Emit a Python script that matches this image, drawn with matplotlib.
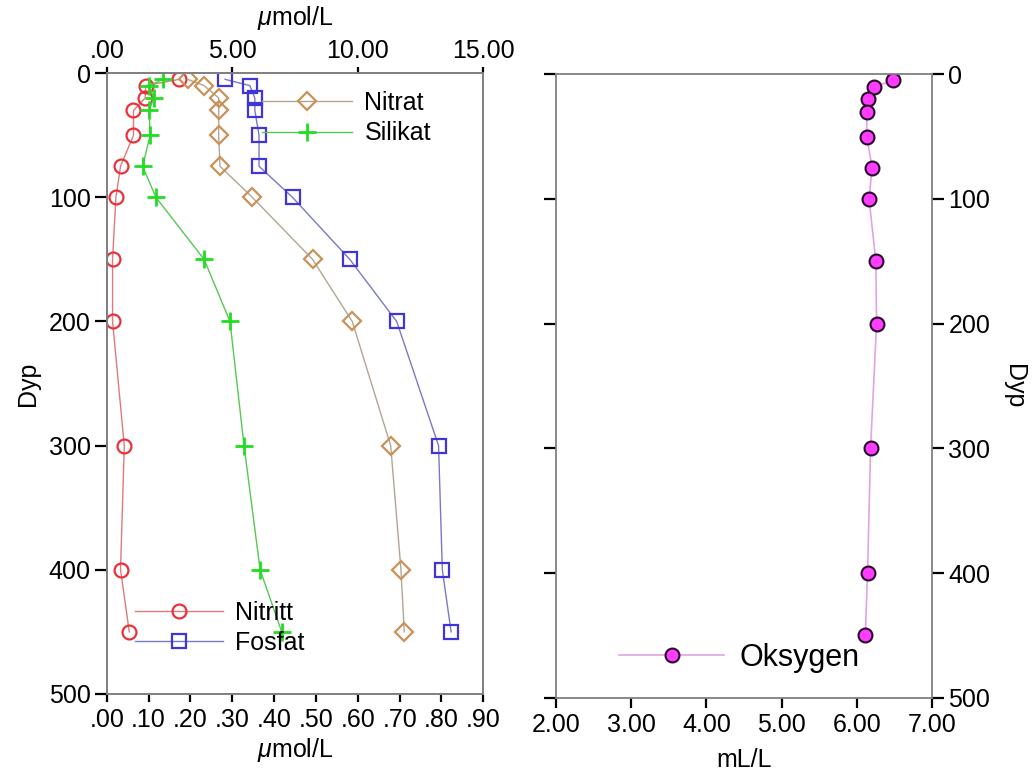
import matplotlib
matplotlib.use("Agg")
import matplotlib.pyplot as plt
from matplotlib.ticker import FuncFormatter

plt.rcParams["font.family"] = ["Liberation Sans", "DejaVu Sans"]
plt.rcParams["mathtext.fontset"] = "custom"
plt.rcParams["mathtext.it"] = "Liberation Sans:italic"
plt.rcParams["mathtext.rm"] = "Liberation Sans"

# depth of the samples (m)
depth = [5, 10, 20, 30, 50, 75, 100, 150, 200, 300, 400, 450]

# bottom axis, umol/L
nitritt = [0.173, 0.093, 0.092, 0.064, 0.064, 0.033, 0.022, 0.014, 0.014, 0.042, 0.033, 0.054]
fosfat = [0.283, 0.342, 0.354, 0.354, 0.364, 0.364, 0.444, 0.581, 0.693, 0.793, 0.802, 0.823]

# top axis, umol/L
nitrat = [3.23, 3.88, 4.46, 4.46, 4.46, 4.51, 5.80, 8.20, 9.78, 11.31, 11.72, 11.85]
silikat = [2.25, 1.69, 1.88, 1.69, 1.73, 1.43, 1.96, 3.88, 4.91, 5.47, 6.11, 6.97]

# right panel, mL/L
oksygen = [6.48, 6.22, 6.14, 6.13, 6.13, 6.20, 6.16, 6.25, 6.26, 6.18, 6.14, 6.11]

depth_ticks = [0, 100, 200, 300, 400, 500]
bottom_ticks = [0.0, 0.1, 0.2, 0.3, 0.4, 0.5, 0.6, 0.7, 0.8, 0.9]
top_ticks = [0, 5, 10, 15]
oks_ticks = [2, 3, 4, 5, 6, 7]

TICK = 18
LAB = 18
SPINE = "#808080"


def short_fmt(v, pos):
    s = "%.2f" % v
    if s.startswith("0."):
        s = s[1:]
    return s


def style_spines(ax):
    for sp in ax.spines.values():
        sp.set_color(SPINE)
        sp.set_linewidth(1.3)


fig = plt.figure(figsize=(10.33, 7.76), dpi=100)

# ---- left panel ----
ax1 = fig.add_axes([0.1033, 0.1057, 0.3646, 0.80])
ax1.plot(nitritt, depth, color="#e07a7a", lw=1, marker="o", ms=10, mfc="none",
         mec="#e8323a", mew=1.6, label="Nitritt")
ax1.plot(fosfat, depth, color="#7a78c8", lw=1, marker="s", ms=9.5, mfc="none",
         mec="#3f35d8", mew=1.6, label="Fosfat")
ax1.set_xlim(0, 0.9)
ax1.set_ylim(500, 0)
ax1.set_xticks(bottom_ticks)
ax1.set_yticks(depth_ticks)
ax1.xaxis.set_major_formatter(FuncFormatter(short_fmt))
ax1.tick_params(axis="x", direction="out", length=6, width=1.6, labelsize=TICK, pad=4)
ax1.tick_params(axis="y", direction="out", length=8.5, width=1.6, labelsize=TICK, pad=3)
ax1.set_xlabel("$\\mathit{\\mu}$mol/L", fontsize=LAB, labelpad=3)
ax1.set_ylabel("Dyp", fontsize=LAB, labelpad=6)
style_spines(ax1)

ax_top = ax1.twiny()
ax_top.plot(nitrat, depth, color="#b3a592", lw=1, marker="D", ms=9.5, mfc="none",
            mec="#c8925a", mew=1.6, label="Nitrat")
ax_top.plot(silikat, depth, color="#55c855", lw=1, marker="+", ms=13, mec="#22dd22",
            mew=2, label="Silikat")
ax_top.set_xlim(0, 15)
ax_top.set_xticks(top_ticks)
ax_top.xaxis.set_major_formatter(FuncFormatter(short_fmt))
ax_top.tick_params(axis="x", direction="out", length=4.5, width=1.6, labelsize=TICK, pad=3)
ax_top.set_xlabel("$\\mathit{\\mu}$mol/L", fontsize=LAB, labelpad=10)
style_spines(ax_top)

leg1 = ax_top.legend(loc="center left", bbox_to_anchor=(262 / 1033, 1 - 118 / 776),
                     bbox_transform=fig.transFigure, frameon=False, fontsize=LAB,
                     borderpad=0, borderaxespad=0, handlelength=3.6,
                     handletextpad=0.5, labelspacing=0.28)
leg2 = ax_top.legend(*ax1.get_legend_handles_labels(), loc="center left",
                     bbox_to_anchor=(135 / 1033, 1 - 628 / 776),
                     bbox_transform=fig.transFigure, frameon=False, fontsize=LAB,
                     borderpad=0, borderaxespad=0, handlelength=3.5,
                     handletextpad=0.5, labelspacing=0.25)
ax_top.add_artist(leg1)

# ---- right panel ----
ax2 = fig.add_axes([0.5382, 0.1009, 0.3643, 0.8034])
ax2.plot(oksygen, depth, color="#e3a3e3", lw=1.2, marker="o", ms=10, mfc="#ff3cff",
         mec="#2a0a2a", mew=1.5, label="Oksygen")
ax2.set_xlim(2, 7)
ax2.set_ylim(500, 0)
ax2.set_xticks(oks_ticks)
ax2.set_yticks(depth_ticks)
ax2.xaxis.set_major_formatter(FuncFormatter(lambda v, p: "%.2f" % v))
ax2.tick_params(axis="x", direction="out", length=7, width=1.6, labelsize=TICK, pad=4)
ax2.tick_params(axis="y", direction="out", length=8.5, width=1.6, labelsize=TICK, pad=3,
                left=True, right=True, labelleft=False, labelright=True)
ax2.yaxis.set_label_position("right")
ax2.set_ylabel("Dyp", fontsize=LAB, rotation=270, labelpad=26)
ax2.set_xlabel("mL/L", fontsize=LAB, labelpad=8)
style_spines(ax2)
ax2.legend(loc="center left", bbox_to_anchor=(619 / 1033, 1 - 658 / 776),
           bbox_transform=fig.transFigure, frameon=False, fontsize=22,
           borderpad=0, borderaxespad=0, handlelength=3.45, handletextpad=0.5)

fig.savefig("out.png", dpi=100)
